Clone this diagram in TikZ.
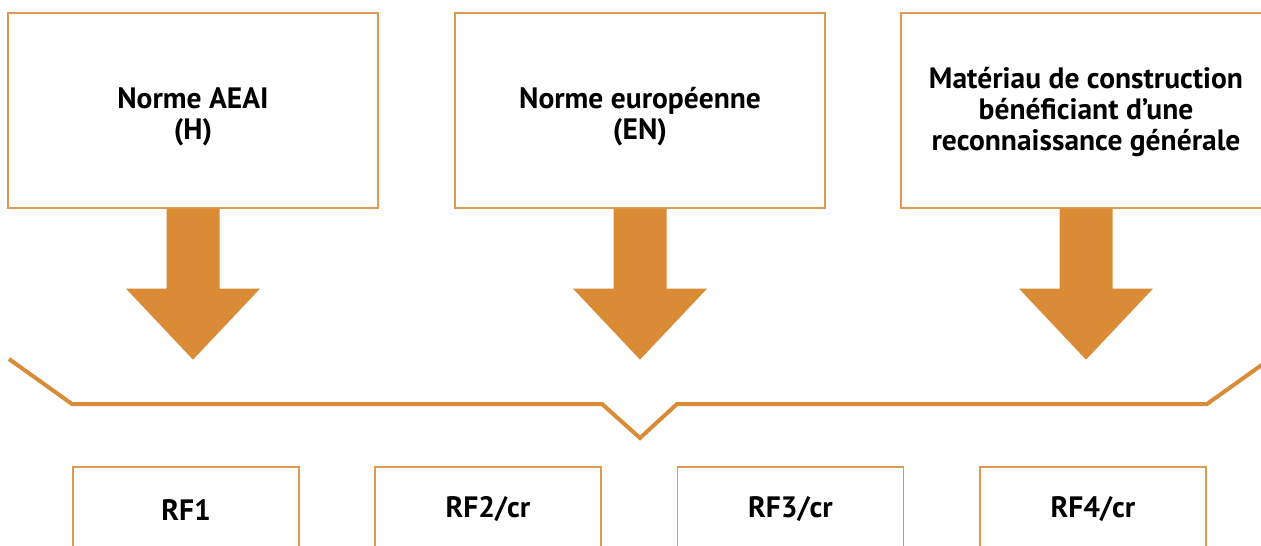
\documentclass[tikz,border=0pt]{standalone}
\usepackage{fontspec}
\setmainfont{PT Sans}
\definecolor{org}{HTML}{D98B35}
\definecolor{orgl}{HTML}{DE9A55}
\begin{document}
\begin{tikzpicture}[x=1pt,y=-1pt,
  txt/.style={font=\bfseries\fontsize{29.5}{31}\selectfont,align=center,inner sep=0pt},
  box/.style={draw=orgl,line width=1.3pt,fill=white,minimum width=370pt,minimum height=195pt,inner sep=0pt},
  rfbox/.style={draw=orgl,line width=1.3pt,fill=white,minimum width=226pt,minimum height=88pt,inner sep=0pt},
  bigarrow/.style={fill=org},
  brace/.style={draw=org,line width=4pt}]
\useasboundingbox (0,0) rectangle (1261,546);
\clip (0,0) rectangle (1261,546);
\node[box] (b1) at (193,110.5) {};
\node[box] (b2) at (640,110.5) {};
\node[box] (b3) at (1086,110.5) {};
\node[txt] (t1) at ([yshift=-6pt]b1.center) {Norme AEAI\\(H)};
\node[txt] (t2) at ([yshift=-6pt]b2.center) {Norme européenne\\(EN)};
\node[txt] (t3) at ([yshift=-1.5pt]b3.center) {Matériau de construction\\bénéficiant d’une\\reconnaissance générale};
\foreach \n in {b1,b2,b3}
  \fill[bigarrow] (\n.south) ++(-26.5,0) -- ++(0,80) -- ++(-40.5,0) -- ++(67,71) -- ++(67,-71) -- ++(-40.5,0) -- ++(0,-80) -- cycle;
\coordinate (l0) at (9,359);
\coordinate (l1) at (72,404);
\coordinate (m0) at (602,404);
\coordinate (tip) at (640,438);
\coordinate (m1) at (677,404);
\coordinate (r1) at (1207,404);
\coordinate (r0) at (1270,359);
\draw[brace] (l0) -- (l1) -- (m0) -- (tip) -- (m1) -- (r1) -- (r0);
\node[rfbox] (rf1) at (186,511) {};
\node[rfbox] (rf2) at (488,511) {};
\node[rfbox] (rf3) at (790.5,511) {};
\node[rfbox] (rf4) at (1093,511) {};
\node[txt] (s1) at ([yshift=1.5pt]rf1.center) {RF1};
\node[txt] (s2) at ([yshift=1.5pt]rf2.center) {RF2/cr};
\node[txt] (s3) at ([yshift=1.5pt]rf3.center) {RF3/cr};
\node[txt] (s4) at ([yshift=1.5pt]rf4.center) {RF4/cr};
\end{tikzpicture}
\end{document}
